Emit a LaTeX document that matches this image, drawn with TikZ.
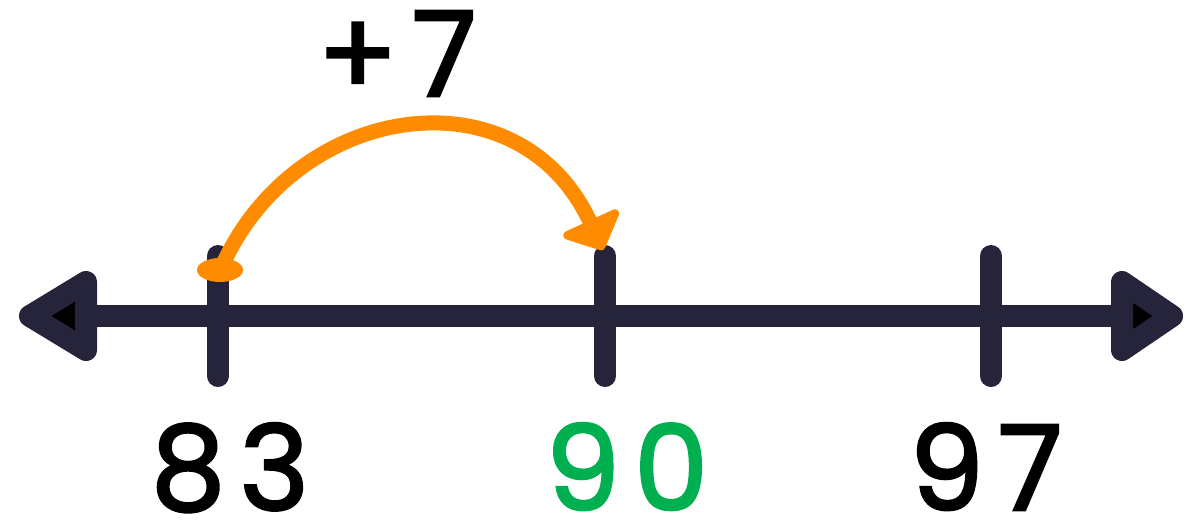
\documentclass[tikz,border=0pt]{standalone}
\usepackage{fontspec}
\setmainfont{Poppins}
\usetikzlibrary{arrows.meta}
\definecolor{navy}{HTML}{25243A}
\definecolor{jump}{HTML}{FF8C00}
\definecolor{ans}{HTML}{00B050}
\tikzset{
  axis/.style={line width=11pt, navy},
  tickmark/.style={line width=11pt, navy, line cap=round},
  headtri/.style={line width=11pt, navy, fill=black, line join=round},
  numlabel/.style={font=\fontsize{59}{59}\selectfont\addfontfeatures{LetterSpace=12,FakeBold=2.2}, inner sep=0pt, anchor=base, text depth=0pt},
}
\begin{document}
\begin{tikzpicture}[x=0.5pt,y=-0.5pt]
\useasboundingbox (0,0) rectangle (1187,526);
% axis
\coordinate (L) at (90,316);
\coordinate (R) at (1120,316);
\draw[axis] (L) -- (R);
\draw[headtri] (30,316) -- (86,282) -- (86,350) -- cycle;
\draw[headtri] (1172,316) -- (1122,282) -- (1122,350) -- cycle;
% ticks
\coordinate (t1) at (218,316);
\coordinate (t2) at (605,316);
\coordinate (t3) at (991,316);
\foreach \t in {t1,t2,t3}{
  \draw[tickmark] ([yshift=-30pt]\t) -- ([yshift=30pt]\t);
}
% labels
\node[numlabel] (n83) at (230,510) {83};
\node[numlabel, text=ans] (n90) at (627,510) {90};
\node[numlabel] (n97) at (986,510) {97};
\node[numlabel] (plus) at (397,96) {+7};
% jump arc
\coordinate (s) at (224,262);
\coordinate (e) at (603,250);
\fill[jump] (220,270) ellipse [x radius=23, y radius=12];
\draw[jump, line width=7.5pt, -{Triangle[length=17pt,width=36pt,round]}] (s) .. controls (300,100) and (520,70) .. (e);
\end{tikzpicture}
\end{document}
